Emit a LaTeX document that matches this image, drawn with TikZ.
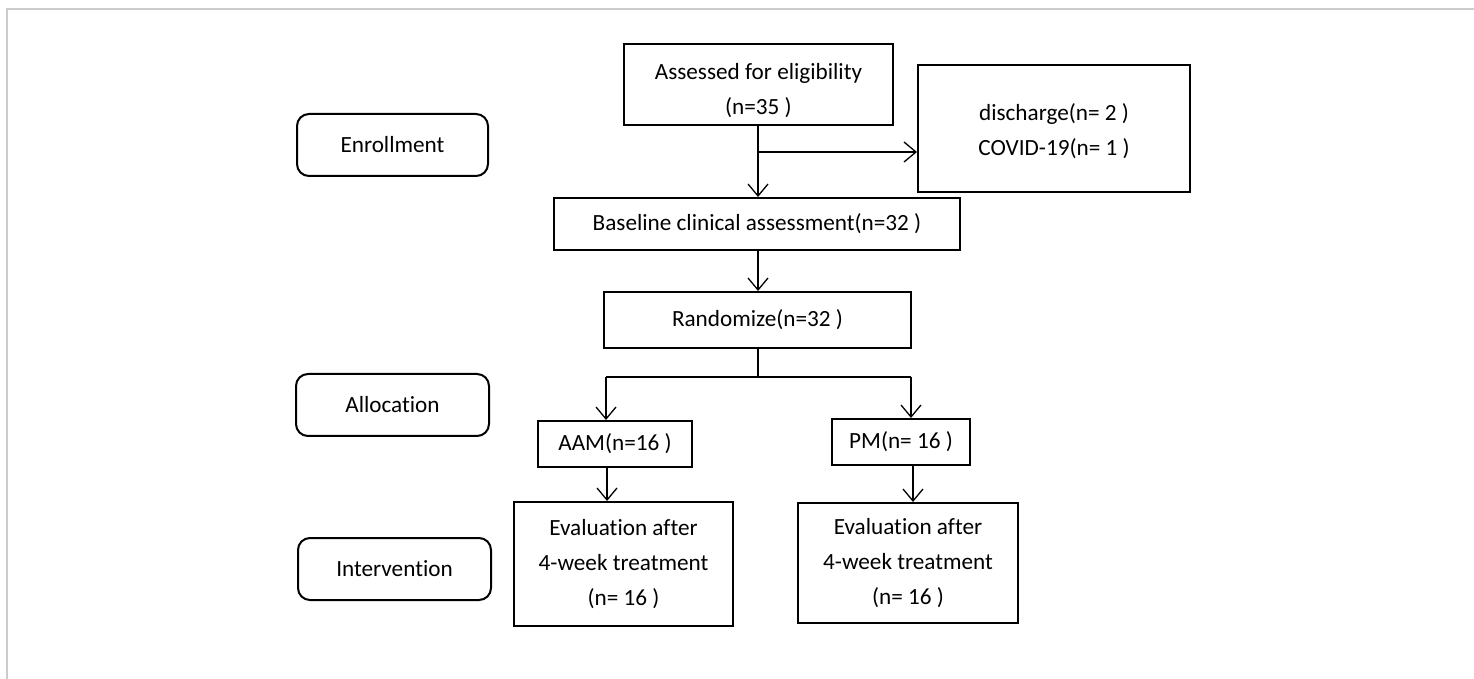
\documentclass[tikz,border=0pt]{standalone}
\usepackage{fontspec}
\setmainfont{Carlito}[RawFeature={-liga;-clig;-calt;-dlig}]
\usetikzlibrary{arrows.meta}
\begin{document}
\begin{tikzpicture}[x=0.5pt, y=-0.5pt,
    font=\fontsize{11.6}{17.4}\selectfont,
    box/.style={draw, line width=1pt, inner sep=0pt, align=center},
    stage/.style={box, rounded corners=6pt},
    arr/.style={line width=0.65pt, -{Straight Barb[length=6pt, width=10pt, line width=0.65pt]}},
    link/.style={line width=0.65pt}]
    \useasboundingbox (0,0) rectangle (1474,679);
    % frame
    \draw[gray!40, line width=1pt] (7,679) -- (7,9) -- (1474,9);
    % stages
    \node[stage, minimum width=95.5pt, minimum height=31pt] (enroll) at (392.5,145) {Enrollment};
    \node[stage, minimum width=96.5pt, minimum height=31pt] (alloc) at (392.5,405) {Allocation};
    \node[stage, minimum width=96.5pt, minimum height=31pt] (interv) at (394.5,569) {Intervention};
    % flow
    \node[box, minimum width=134.5pt, minimum height=40.5pt] (assess) at (758.5,84.5) {\rule{0pt}{14pt}Assessed for eligibility\\(n=35 )};
    \node[box, minimum width=136pt, minimum height=63.5pt] (disc) at (1054,128.5) {\rule{0pt}{11pt}discharge(n= 2 )\\COVID-19(n= 1 )};
    \node[box, minimum width=203pt, minimum height=26pt] (base) at (757,224) {Baseline clinical assessment(n=32 )};
    \node[box, minimum width=153.5pt, minimum height=28pt] (rand) at (757.5,320) {Randomize(n=32 )};
    \node[box, minimum width=77pt, minimum height=23pt] (aam) at (615,444) {AAM(n=16 )};
    \node[box, minimum width=69pt, minimum height=23pt] (pm) at (901,442) {PM(n= 16 )};
    \node[box, minimum width=109.5pt, minimum height=62pt] (evl) at (623.5,564) {Evaluation after\\4-week treatment\\(n= 16 )};
    \node[box, minimum width=110pt, minimum height=60pt] (evr) at (908,563) {Evaluation after\\4-week treatment\\(n= 16 )};
    \coordinate (split) at (758,152);
    \coordinate (fork) at (758,377);
    \coordinate (fl) at (606,377);
    \coordinate (fr) at (911,377);
    \draw[arr] (split |- assess.south) -- (split |- base.north);
    \draw[arr] (split) -- (split -| disc.west);
    \draw[arr] (fork |- base.south) -- (fork |- rand.north);
    \draw[link] (fork |- rand.south) -- (fork);
    \draw[link] (fl) -- (fr);
    \draw[arr] (fl) -- (fl |- aam.north);
    \draw[arr] (fr) -- (fr |- pm.north);
    \draw[arr] ([xshift=-4pt]aam.south) -- ([xshift=-4pt]aam.south |- evl.north);
    \draw[arr] ([xshift=6pt]pm.south) -- ([xshift=6pt]pm.south |- evr.north);
\end{tikzpicture}
\end{document}
